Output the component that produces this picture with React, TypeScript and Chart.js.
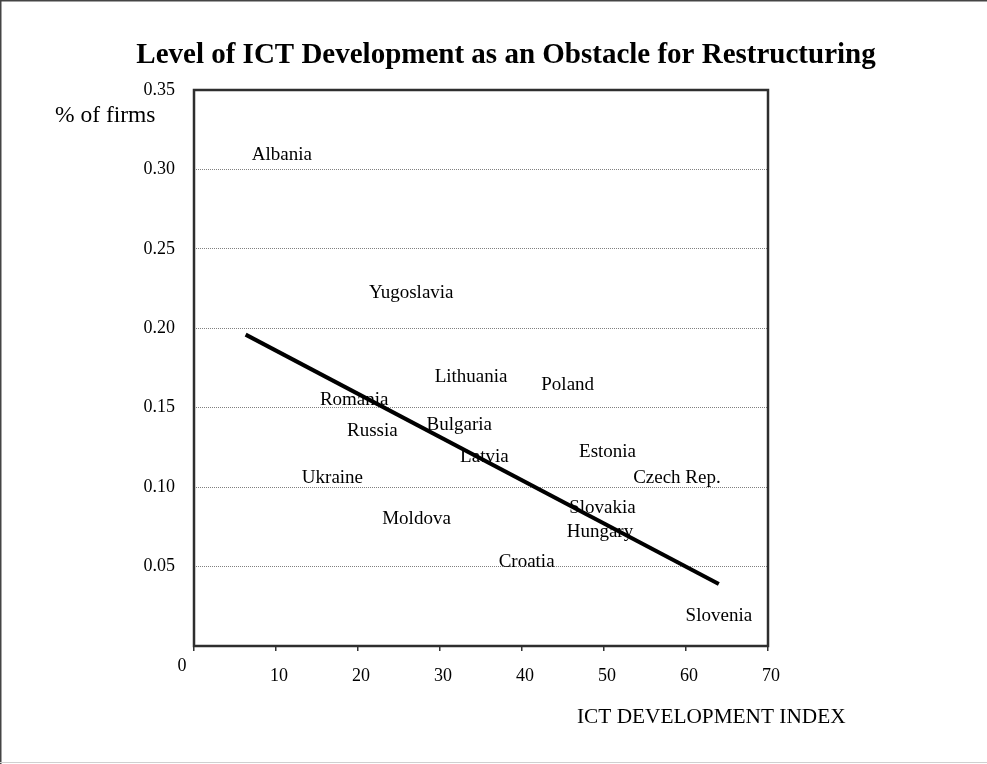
import React, { useEffect, useRef } from 'react';
import { Chart, registerables } from 'chart.js';

Chart.register(...registerables);

const countries = [
  'Albania', 'Yugoslavia', 'Lithuania', 'Poland', 'Romania', 'Russia', 'Bulgaria', 'Latvia',
  'Estonia', 'Ukraine', 'Czech Rep.', 'Moldova', 'Slovakia', 'Hungary', 'Croatia', 'Slovenia',
];
const ictIndex = [6.2, 20.5, 28.5, 41.5, 14.5, 17.8, 27.5, 31.6, 46.1, 12.3, 52.7, 22.1, 44.9, 44.6, 36.3, 59.1];
const shareFirms = [0.304, 0.217, 0.164, 0.159, 0.150, 0.130, 0.134, 0.114, 0.117, 0.101, 0.101, 0.075, 0.082, 0.067, 0.048, 0.014];
const trendX = [6.3, 64.0];
const trendY = [0.196, 0.039];

const titleText = 'Level of ICT Development as an Obstacle for Restructuring';
const yAxisTitle = '% of firms';
const xAxisTitle = 'ICT DEVELOPMENT INDEX';

const SERIF = '"Liberation Serif", "Times New Roman", Times, serif';

export default function App() {
  const canvasRef = useRef<HTMLCanvasElement | null>(null);

  useEffect(() => {
    document.body.style.margin = '0';
    document.body.style.overflow = 'hidden';
    const canvas = canvasRef.current;
    if (!canvas) return;

    const decorPlugin = {
      id: 'decor',
      beforeDraw(chart: any) {
        const { ctx, width, height } = chart;
        ctx.save();
        ctx.fillStyle = '#ffffff';
        ctx.fillRect(0, 0, width, height);
        // outer frame
        ctx.fillStyle = '#444444';
        ctx.fillRect(0, 0, width, 1.5);
        ctx.fillRect(0, 0, 1.5, height);
        ctx.fillStyle = '#d0d0d0';
        ctx.fillRect(0, height - 2, width, 1);
        ctx.restore();
      },
      beforeDatasetsDraw(chart: any) {
        const { ctx, chartArea } = chart;
        ctx.save();
        ctx.strokeStyle = '#2e2e2e';
        ctx.lineWidth = 2.5;
        ctx.strokeRect(chartArea.left, chartArea.top, chartArea.right - chartArea.left, chartArea.bottom - chartArea.top);
        ctx.restore();
      },
      afterDatasetsDraw(chart: any) {
        const { ctx } = chart;
        const meta = chart.getDatasetMeta(0);
        ctx.save();
        ctx.fillStyle = '#000000';
        ctx.font = `19px ${SERIF}`;
        ctx.textAlign = 'left';
        ctx.textBaseline = 'middle';
        meta.data.forEach((el: any, i: number) => {
          ctx.fillText(countries[i], el.x + 7, el.y - 8);
        });
        // title
        ctx.font = `bold 29px ${SERIF}`;
        ctx.textAlign = 'center';
        ctx.textBaseline = 'alphabetic';
        ctx.fillText(titleText, 506, 63);
        // axis titles
        ctx.textAlign = 'left';
        ctx.font = `23.5px ${SERIF}`;
        ctx.fillText(yAxisTitle, 55, 122);
        ctx.font = `21.3px ${SERIF}`;
        ctx.fillText(xAxisTitle, 577, 723);
        // y-axis zero label
        const yScale = chart.scales.y;
        ctx.font = `18px ${SERIF}`;
        ctx.textAlign = 'center';
        ctx.textBaseline = 'middle';
        ctx.fillText('0', 182, yScale.getPixelForValue(0) + 20);
        ctx.restore();
      },
    };

    const chart = new Chart(canvas, {
      type: 'scatter',
      data: {
        datasets: [
          {
            label: 'Countries',
            data: ictIndex.map((x, i) => ({ x, y: shareFirms[i] })),
            pointRadius: 0,
            pointHoverRadius: 0,
            showLine: false,
          },
          {
            label: 'Trend',
            data: trendX.map((x, i) => ({ x, y: trendY[i] })),
            showLine: true,
            borderColor: '#000000',
            borderWidth: 4,
            pointRadius: 0,
            fill: false,
          },
        ],
      },
      plugins: [decorPlugin],
      options: {
        animation: false,
        responsive: false,
        maintainAspectRatio: false,
        events: [],
        layout: { padding: { left: 0, top: 90, right: 219, bottom: 0 } },
        plugins: {
          legend: { display: false },
          title: { display: false },
          tooltip: { enabled: false },
        },
        scales: {
          x: {
            type: 'linear',
            min: 0,
            max: 70,
            border: { display: false },
            grid: {
              drawOnChartArea: false,
              drawTicks: true,
              tickLength: 5,
              color: '#333333',
              lineWidth: 1.5,
            },
            ticks: {
              stepSize: 10,
              padding: 14,
              labelOffset: 3,
              color: '#000000',
              font: { family: SERIF, size: 18 },
              callback: (v: any) => (Number(v) === 0 ? '' : String(v)),
            },
            afterFit: (scale: any) => {
              scale.height = 118;
            },
          },
          y: {
            type: 'linear',
            min: 0,
            max: 0.35,
            border: { display: false, dash: [1, 1] },
            grid: {
              drawTicks: false,
              lineWidth: 1,
              color: (ctx: any) => {
                const v = ctx.tick ? ctx.tick.value : 0;
                return v < 0.01 || v > 0.34 ? 'rgba(0,0,0,0)' : '#808080';
              },
            },
            ticks: {
              stepSize: 0.05,
              padding: 19,
              color: '#000000',
              font: { family: SERIF, size: 18 },
              callback: (v: any) => (Number(v) < 0.001 ? '' : Number(v).toFixed(2)),
            },
            afterFit: (scale: any) => {
              scale.width = 194;
            },
          },
        },
      },
    } as any);

    return () => chart.destroy();
  }, []);

  return (
    <div style={{ width: 987, height: 764, overflow: 'hidden' }}>
      <canvas ref={canvasRef} width={987} height={764} style={{ display: 'block' }} />
    </div>
  );
}
